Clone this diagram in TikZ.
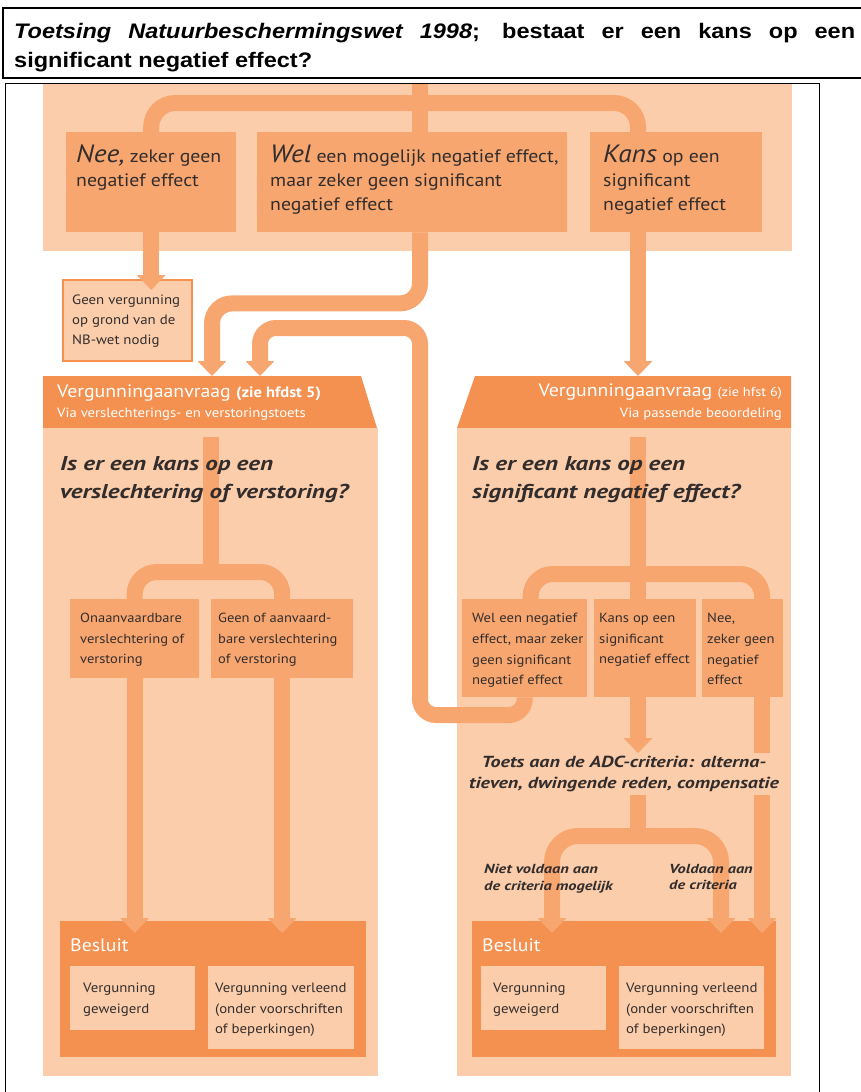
\documentclass[tikz,border=0pt]{standalone}
\usepackage{fontspec}
\setmainfont{PT Sans}[FakeStretch=1.1]
\newfontfamily\vetfont{PT Sans}[FakeStretch=1.25]
\newfontfamily\titelfont{Liberation Sans}[FakeStretch=1.12]
\usetikzlibrary{arrows.meta,calc}
\definecolor{licht}{RGB}{252,205,170}
\definecolor{midden}{RGB}{248,166,111}
\definecolor{donker}{RGB}{245,145,80}
\definecolor{inkt}{RGB}{50,45,45}
\newcommand{\fsz}[2]{\fontsize{#1}{#2}\selectfont}

\begin{document}
\begin{tikzpicture}[x=1pt,y=-1pt,
  band/.style={draw=midden,line width=16pt},
  pijl/.style={band,-{Triangle[width=28pt,length=15pt]}},
  bocht/.style={rounded corners=#1},
  bocht/.default=22pt,
  vak/.style={fill=midden,inner sep=0pt,anchor=north west},
  vaklicht/.style={fill=licht,inner sep=0pt,anchor=north west},
  txt/.style={inner sep=0pt,anchor=north west,align=left,text=inkt},
  wit/.style={inner sep=0pt,text=white}]
\useasboundingbox (0,0) rectangle (861,1092);

% title and frame
\draw[line width=1.5pt] (3,8) rectangle (880,78);
\node[anchor=north west,inner sep=0pt,align=left,font=\titelfont\bfseries\fsz{21}{29}] (titel) at (14,23)
  {\makebox[841pt][s]{\textit{Toetsing Natuurbeschermingswet 1998}; bestaat er een kans op een}\\significant negatief effect?};
\draw[line width=1pt] (5,83) rectangle (819,1100);

% top panel: three answers
\fill[licht] (43,84) rectangle (792,251);
\node[vak,minimum width=170pt,minimum height=100pt] (nee) at (66,132) {};
\node[vak,minimum width=310pt,minimum height=100pt] (wel) at (257,132) {};
\node[vak,minimum width=172pt,minimum height=100pt] (kans) at (590,132) {};
\coordinate (boven) at (420,84);
\coordinate (splits) at (420,103);
\coordinate (kx) at (638,0);
\coordinate (nx) at (762,0);
\draw[band] (boven) -- (boven |- wel.north);
\draw[band,bocht=24pt] (nee.north) |- (splits) -| (kx |- kans.north);
\node[txt,font=\fsz{18}{24}] (neeT) at (76,145) {\textit{\fsz{25}{24}Nee,} zeker geen\\negatief effect};
\node[txt,font=\fsz{18}{24}] (welT) at (270,145) {\textit{\fsz{25}{24}Wel} een mogelijk negatief effect,\\maar zeker geen significant\\negatief effect};
\node[txt,font=\fsz{18}{24}] (kansT) at (603,145) {\textit{\fsz{25}{24}Kans} op een\\significant\\negatief effect};

% no permit needed
\node[vaklicht,draw=donker,line width=1.5pt,minimum width=129pt,minimum height=81pt] (geen) at (62,279) {};
\node[txt,font=\fsz{13.5}{20}] (geenT) at (72,295) {Geen vergunning\\op grond van de\\NB-wet nodig};
\draw[pijl] (nee.south) -- ($(nee.south |- geen.north)+(0,11)$);

% left panel
\fill[donker] (43,376) -- (361,376) -- (377,428) -- (43,428) -- cycle;
\fill[licht] (43,428) rectangle (378,1076);
\node[wit,anchor=north west,font=\fsz{18}{20}] (kopL) at (57,385) {Vergunningaanvraag \textbf{\fsz{15}{15}(zie hfdst 5)}};
\node[wit,anchor=north west,font=\fsz{13.4}{15}] (kopLsub) at (57,408) {Via verslechterings- en verstoringstoets};
\node[vak,minimum width=129pt,minimum height=79pt] (onL) at (70,599) {};
\node[vak,minimum width=142pt,minimum height=79pt] (geenL) at (211,599) {};
\node[vak,fill=donker,minimum width=306pt,minimum height=136pt] (besL) at (60,921) {};
\node[vaklicht,minimum width=125pt,minimum height=64pt] (weigL) at (70,966) {};
\node[vaklicht,minimum width=146pt,minimum height=83pt] (verlL) at (208,966) {};

% right panel
\fill[donker] (475,376) -- (791,376) -- (791,428) -- (457,428) -- cycle;
\fill[licht] (457,428) rectangle (791,1076);
\node[wit,anchor=north east,font=\fsz{18}{20}] (kopR) at (782,384) {Vergunningaanvraag {\fsz{13}{15}(zie hfst 6)}};
\node[wit,anchor=north east,font=\fsz{13.4}{15}] (kopRsub) at (782,408) {Via passende beoordeling};
\node[vak,minimum width=125pt,minimum height=98pt] (welR) at (462,599) {};
\node[vak,minimum width=102pt,minimum height=98pt] (kansR) at (594,599) {};
\node[vak,minimum width=81pt,minimum height=98pt] (neeR) at (702,599) {};
\node[vak,fill=donker,minimum width=304pt,minimum height=136pt] (besR) at (472,921) {};
\node[vaklicht,minimum width=125pt,minimum height=64pt] (weigR) at (481,966) {};
\node[vaklicht,minimum width=145pt,minimum height=83pt] (verlR) at (619,966) {};

% arrows into the two applications
\coordinate (inL1) at (212,376);
\coordinate (inL2) at (260,376);
\coordinate (inR) at (638,376);
\draw[pijl,bocht=20pt] (boven |- wel.south) -- ++(0,71) -| (inL1);
\draw[pijl] (kx |- kans.south) -- (inR);
\draw[pijl,bocht=16pt] (welR.south) |- (420,715) |- (260,328) -- (inL2);

% left: split and decision
\coordinate (sL) at (211,437);
\coordinate (splitL) at (211,572);
\draw[band] (sL) -- (splitL);
\draw[band,bocht] (onL.north) |- (splitL) -| (geenL.north);
\draw[pijl] (onL.south) -- ($(onL.south |- besL.north)+(0,12)$);
\draw[pijl] (geenL.south) -- ($(geenL.south |- besL.north)+(0,12)$);

% right: split, ADC test and decision
\node[font=\vetfont\bfseries\itshape\fsz{16}{20.5},text=inkt,align=center,inner sep=3pt] (adc) at (624,774)
  {Toets aan de ADC-criteria: alterna-\\tieven, dwingende reden, compensatie};
\coordinate (sR) at (638,437);
\coordinate (splitR) at (638,574);
\coordinate (splitA) at (638,836);
\draw[band] (sR) -- (kx |- kansR.north);
\draw[band,bocht] ($(welR.north)+(6,0)$) |- (splitR) -| (nx |- neeR.north);
\draw[pijl] (kx |- kansR.south) -- (kx |- adc.north);
\draw[band] (nx |- neeR.south) -- (nx |- adc.north);
\draw[band] (kx |- adc.south) -- (splitA);
\draw[pijl,bocht=26pt] (splitA) -| ($(besR.north west)+(80,12)$);
\draw[pijl,bocht=26pt] (splitA) -| ($(besR.north west)+(249,12)$);
\draw[pijl] (nx |- adc.south) -- ($(besR.north west -| nx)+(0,12)$);

% texts
\node[txt,font=\vetfont\bfseries\itshape\fsz{20}{28.5}] (vraagL) at (60,456) {Is er een kans op een\\verslechtering of verstoring?};
\node[txt,font=\vetfont\bfseries\itshape\fsz{20}{28.5}] (vraagR) at (472,456) {Is er een kans op een\\significant negatief effect?};
\node[txt,font=\fsz{13.2}{20.5}] (onLT) at (80,613) {Onaanvaardbare\\verslechtering of\\verstoring};
\node[txt,font=\fsz{13.2}{20.5}] (geenLT) at (218,613) {Geen of aanvaard-\\bare verslechtering\\of verstoring};
\node[txt,font=\fsz{13.3}{20.7}] (welRT) at (472,613) {Wel een negatief\\effect, maar zeker\\geen significant\\negatief effect};
\node[txt,font=\fsz{13.3}{20.7}] (kansRT) at (599,613) {Kans op een\\significant\\negatief effect};
\node[txt,font=\fsz{13.3}{20.7}] (neeRT) at (707,613) {Nee,\\zeker geen\\negatief\\effect};
\node[txt,font=\vetfont\bfseries\itshape\fsz{13.1}{16.5}] (nietV) at (484,864) {Niet voldaan aan\\de criteria mogelijk};
\node[txt,font=\vetfont\bfseries\itshape\fsz{13.1}{16.5}] (voldV) at (669,864) {Voldaan aan\\de criteria};
\node[wit,anchor=west,font=\fsz{18}{22}] (besLT) at (70,945) {Besluit};
\node[wit,anchor=west,font=\fsz{18}{22}] (besRT) at (482,945) {Besluit};
\node[txt,font=\fsz{13.5}{20.5}] (weigLT) at (83,983) {Vergunning\\geweigerd};
\node[txt,font=\fsz{13.5}{20.5}] (verlLT) at (215,983) {Vergunning verleend\\(onder voorschriften\\of beperkingen)};
\node[txt,font=\fsz{13.5}{20.5}] (weigRT) at (493,983) {Vergunning\\geweigerd};
\node[txt,font=\fsz{13.5}{20.5}] (verlRT) at (626,983) {Vergunning verleend\\(onder voorschriften\\of beperkingen)};
\end{tikzpicture}
\end{document}
